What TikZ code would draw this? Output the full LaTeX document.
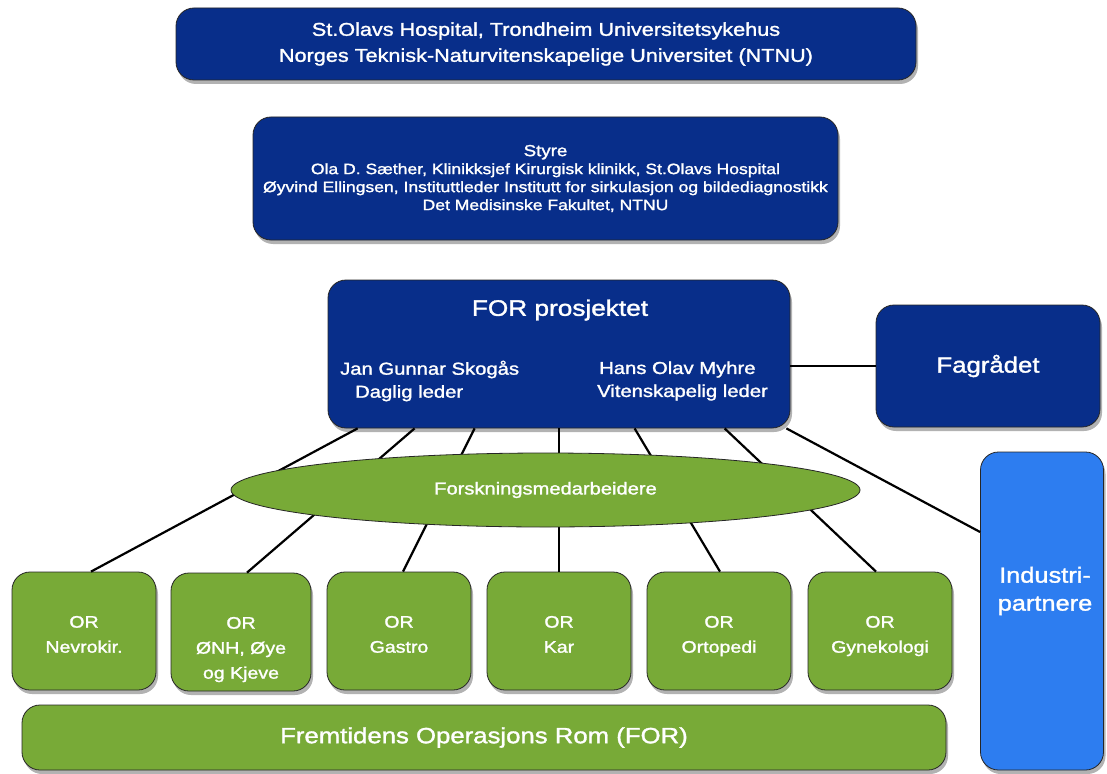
\documentclass[tikz,border=0pt]{standalone}
\usepackage{fontspec}
\setmainfont{Liberation Sans}[FakeStretch=1.17, FakeBold=1.5]
\usetikzlibrary{shapes.geometric,shadows}
\definecolor{navy}{RGB}{8,46,138}
\definecolor{grn}{RGB}{120,170,55}
\definecolor{lblue}{RGB}{45,125,240}
\newcommand\ortxt[1]{\parbox[c][118pt][t]{140pt}{\centering\vspace*{44pt}#1}}
\tikzset{
  box/.style={draw=black!85, line width=0.8pt, rounded corners=18pt, text=white,
    align=center, inner sep=0pt,
    drop shadow={opacity=0.6, shadow xshift=2pt, shadow yshift=-4pt}},
  navybox/.style={box, fill=navy},
  orbox/.style={box, fill=grn, minimum width=144pt, minimum height=118pt,
    font=\fontsize{16.7}{25}\selectfont},
  wtext/.style={text=white, inner sep=0pt, align=center},
  link/.style={line width=2.2pt, black}
}
\begin{document}
\begin{tikzpicture}[x=1pt,y=-1pt]
\useasboundingbox[fill=white] (0,0) rectangle (1107,773);
% top boxes
\node[navybox, minimum width=740pt, minimum height=72pt,
  font=\fontsize{18.5}{26}\selectfont] (top) at (546,44)
  {St.Olavs Hospital, Trondheim Universitetsykehus\\Norges Teknisk-Naturvitenskapelige Universitet (NTNU)};
\node[navybox, minimum width=585pt, minimum height=123pt,
  font=\fontsize{15}{18}\selectfont] (styre) at (545.5,178.5)
  {{\fontsize{16}{18}\selectfont Styre}\\Ola D. Sæther, Klinikksjef Kirurgisk klinikk, St.Olavs Hospital\\Øyvind Ellingsen, Instituttleder Institutt for sirkulasjon og bildediagnostikk\\Det Medisinske Fakultet, NTNU};
% FOR box
\node[navybox, minimum width=462pt, minimum height=148pt] (for) at (559,354) {};
\node[wtext, font=\fontsize{22.4}{26}\selectfont] (fortitle) at (560,310) {FOR prosjektet};
\node[wtext, align=left, anchor=west, font=\fontsize{17.3}{23}\selectfont] (forL) at (340,381)
  {Jan Gunnar Skogås\\\hspace*{15pt}Daglig leder};
\node[wtext, align=left, anchor=west, font=\fontsize{17.3}{23}\selectfont] (forR) at (597,381)
  {\hspace*{2pt}Hans Olav Myhre\\Vitenskapelig leder};
\node[navybox, minimum width=224pt, minimum height=122pt,
  font=\fontsize{22}{26}\selectfont] (fag) at (988,366) {Fagrådet};
% Industripartnere
\node[box, fill=lblue, minimum width=123pt, minimum height=318pt] (ind) at (1042,611) {};
\node[wtext, font=\fontsize{21.7}{28}\selectfont] (indtext) at (1045,591) {Industri-\\partnere};
% OR boxes
\node[orbox] (or1) at (84,631) {\ortxt{OR\\Nevrokir.}};
\node[orbox, minimum width=140pt] (or2) at (241,632) {\ortxt{OR\\ØNH, Øye\\og Kjeve}};
\node[orbox] (or3) at (399,631) {\ortxt{OR\\Gastro}};
\node[orbox] (or4) at (559,631) {\ortxt{OR\\Kar}};
\node[orbox] (or5) at (719,631) {\ortxt{OR\\Ortopedi}};
\node[orbox] (or6) at (880,631) {\ortxt{OR\\Gynekologi}};
% bottom bar
\node[box, fill=grn, minimum width=924pt, minimum height=65pt,
  font=\fontsize{22}{26}\selectfont] (fremtid) at (484,737.5) {Fremtidens Operasjons Rom (FOR)};
% connectors
\draw[link] ([xshift=30pt]for.south west) -- ([xshift=7pt]or1.north);
\draw[link] ([xshift=87pt]for.south west) -- ([xshift=6pt]or2.north);
\draw[link] ([xshift=147pt]for.south west) -- ([xshift=4pt]or3.north);
\draw[link] (for.south) -- (or4.north);
\draw[link] ([xshift=307pt]for.south west) -- ([xshift=1pt]or5.north);
\draw[link] ([xshift=397pt]for.south west) -- ([xshift=-4pt]or6.north);
\draw[link] ([xshift=-4pt]for.south east) -- ([yshift=79pt]ind.west);
\draw[link] (fag.west -| for.east) -- (fag.west);
% ellipse on top of connectors
\node[ellipse, draw=black!85, line width=0.8pt, fill=grn, minimum width=629pt, minimum height=74pt,
  inner sep=0pt, text=white, font=\fontsize{17.2}{20}\selectfont] (forsk) at (545.5,490)
  {\raisebox{-8pt}{Forskningsmedarbeidere}};
\end{tikzpicture}
\end{document}
